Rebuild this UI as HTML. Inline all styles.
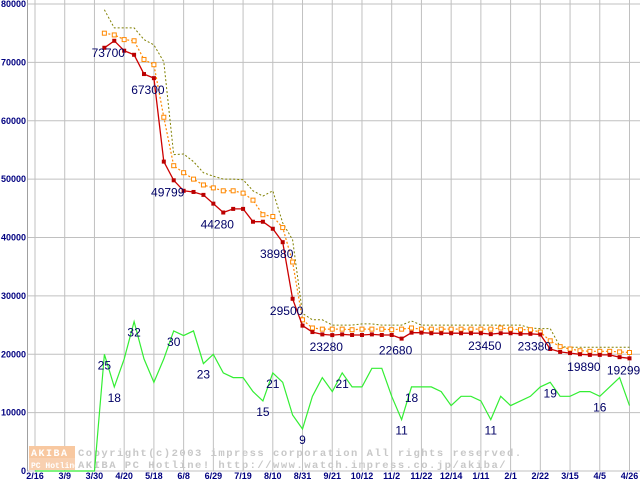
<!DOCTYPE html>
<html><head><meta charset="utf-8"><style>
html,body{margin:0;padding:0;background:#fff;}
svg{display:block;}
.ax{font-family:"Liberation Sans",sans-serif;font-size:9px;font-weight:bold;fill:#000080;}
.lb{font-family:"Liberation Sans",sans-serif;font-size:12px;fill:#000066;}
.wm{font-family:"Liberation Mono",monospace;font-size:10.5px;font-weight:bold;fill:#c8c8c8;letter-spacing:1.5px;}
</style></head><body>
<svg id="chart" width="640" height="480" viewBox="0 0 640 480"></svg>
<script>
const xTickLabels=["2/16","3/9","3/30","4/20","5/18","6/8","6/29","7/19","8/10","8/31","9/21","10/12","11/2","11/22","12/14","1/11","2/1","2/22","3/15","4/5","4/26"];
const yTickValues=[0,10000,20000,30000,40000,50000,60000,70000,80000];
const shopCount=[0,0,0,0,0,0,0,25,18,24,32,24,19,24,30,29,30,23,25,21,20,20,17,15,21,19,12,9,16,20,17,21,18,18,22,22,16,11,18,18,18,17,14,16,16,15,11,16,14,15,16,18,19,16,16,17,17,16,18,20,14];
const minPrice=[null,null,null,null,null,null,null,72500,73700,72000,71300,68000,67300,53000,49799,48000,47800,47300,45800,44280,44900,44900,42700,42700,41500,39200,29500,24900,23800,23400,23280,23400,23300,23300,23400,23300,23300,22680,23700,23700,23600,23600,23600,23600,23600,23600,23450,23600,23600,23500,23500,23380,20900,20400,20200,20000,19890,19890,19890,19500,19299];
const avgPrice=[null,null,null,null,null,null,null,75000,74700,73900,73700,70500,69600,60600,52300,51100,50000,49000,48500,48000,48000,47600,46400,43900,43600,41700,35800,25900,24500,24300,24300,24300,24200,24300,24300,24300,24200,24300,24500,24300,24300,24300,24300,24300,24300,24300,24300,24500,24300,24200,24200,23800,22300,21300,20900,20600,20500,20500,20500,20400,20300];
const maxPrice=[null,null,null,null,null,null,null,79000,75900,75900,75900,73900,73000,70100,54200,54300,53000,51100,50500,50000,50000,49900,48000,47100,48000,42500,39600,27000,25900,25900,25000,25000,25000,25200,25200,25000,25000,25000,25700,25000,25000,25000,25000,25000,25000,25000,25000,25000,25000,25000,24500,24400,24400,21300,21200,21200,21200,21200,21200,21200,21200];
const priceLabels=[[8,"73700"],[12,"67300"],[14,"49799"],[19,"44280"],[25,"38980"],[26,"29500"],[30,"23280"],[37,"22680"],[46,"23450"],[51,"23380"],[56,"19890"],[60,"19299"]];
const countLabels=[[7,"25"],[8,"18"],[10,"32"],[14,"30"],[17,"23"],[23,"15"],[24,"21"],[27,"9"],[31,"21"],[38,"18"],[37,"11"],[46,"11"],[52,"19"],[57,"16"]];
const COUNT_SCALE=800;
const NS="http://www.w3.org/2000/svg";
const svg=document.getElementById("chart");
const X0=35,WEEK=(629.5-35)/60,Y0=471,YK=(471-4)/80000;
function xs(i){return X0+i*WEEK;}
function ys(v){return Y0-v*YK;}
function mk(t,a,p){const e=document.createElementNS(NS,t);for(const k in a)e.setAttribute(k,a[k]);(p||svg).appendChild(e);return e;}
yTickValues.forEach(v=>{
  const l=mk("line",{x1:27,x2:640,y1:ys(v),y2:ys(v),stroke:"#c0c0c0","stroke-width":1});
  
  
  const t=mk("text",{x:26,y:ys(v)+3,"text-anchor":"end",class:"ax"});t.textContent=v;
  
  
});
xTickLabels.forEach((s,k)=>{
  const x=xs(k*3);
  const l=mk("line",{x1:x,x2:x,y1:0,y2:471,stroke:"#c0c0c0","stroke-width":1});
  
  
  const t=mk("text",{x:x,y:479,"text-anchor":"middle",class:"ax"});t.textContent=s;
  
  
});
const ax=mk("line",{x1:27.5,x2:27.5,y1:0,y2:471,stroke:"#a0a0a0"});


const g=mk("g",{});


mk("rect",{x:29,y:446,width:46,height:12,fill:"#f8c8a0"},g);
mk("rect",{x:29,y:458,width:46,height:12,fill:"#f8d0b0"},g);
const a1=mk("text",{x:31,y:456,class:"wm",style:"fill:#fff;font-size:10px"},g);a1.textContent="AKIBA";
const a2=mk("text",{x:31,y:468,class:"wm",style:"fill:#fff;font-size:8px;letter-spacing:0"},g);a2.textContent="PC Hotline!";
const w1=mk("text",{x:78,y:456,class:"wm"},g);w1.textContent="Copyright(c)2003 impress corporation All rights reserved.";
const w2=mk("text",{x:78,y:468,class:"wm"},g);w2.textContent="AKIBA PC Hotline!  http://www.watch.impress.co.jp/akiba/";
function path(arr,scale){let d="",st=false;arr.forEach((v,i)=>{if(v==null)return;d+=(st?"L":"M")+xs(i).toFixed(1)+","+ys(v*scale).toFixed(1);st=true;});return d;}
const pc=mk("path",{d:path(shopCount,COUNT_SCALE),fill:"none",stroke:"#33ee33","stroke-width":1.2});


const pmax=mk("path",{d:path(maxPrice,1),fill:"none",stroke:"#808000","stroke-width":1,"stroke-dasharray":"2,2"});


const pavg=mk("path",{d:path(avgPrice,1),fill:"none",stroke:"#ff8800","stroke-width":1.2,"stroke-dasharray":"2,2"});


avgPrice.forEach((v,i)=>{if(v==null)return;const r=mk("rect",{x:xs(i)-2,y:ys(v)-2,width:4,height:4,fill:"#fff",stroke:"#ff8800","stroke-width":1});
  
  });
const pmin=mk("path",{d:path(minPrice,1),fill:"none",stroke:"#cc0000","stroke-width":1.3});


minPrice.forEach((v,i)=>{if(v==null)return;const r=mk("rect",{x:xs(i)-2,y:ys(v)-2,width:4,height:4,fill:"#bb0000"});
  
  });
priceLabels.forEach(([i,s])=>{const t=mk("text",{x:xs(i)-6,y:ys(minPrice[i])+16,class:"lb","text-anchor":"middle"});t.textContent=s;
  
  });
countLabels.forEach(([i,s])=>{const t=mk("text",{x:xs(i),y:ys(shopCount[i]*COUNT_SCALE)+15,class:"lb","text-anchor":"middle"});t.textContent=s;
  
  });
</script>
</body></html>
